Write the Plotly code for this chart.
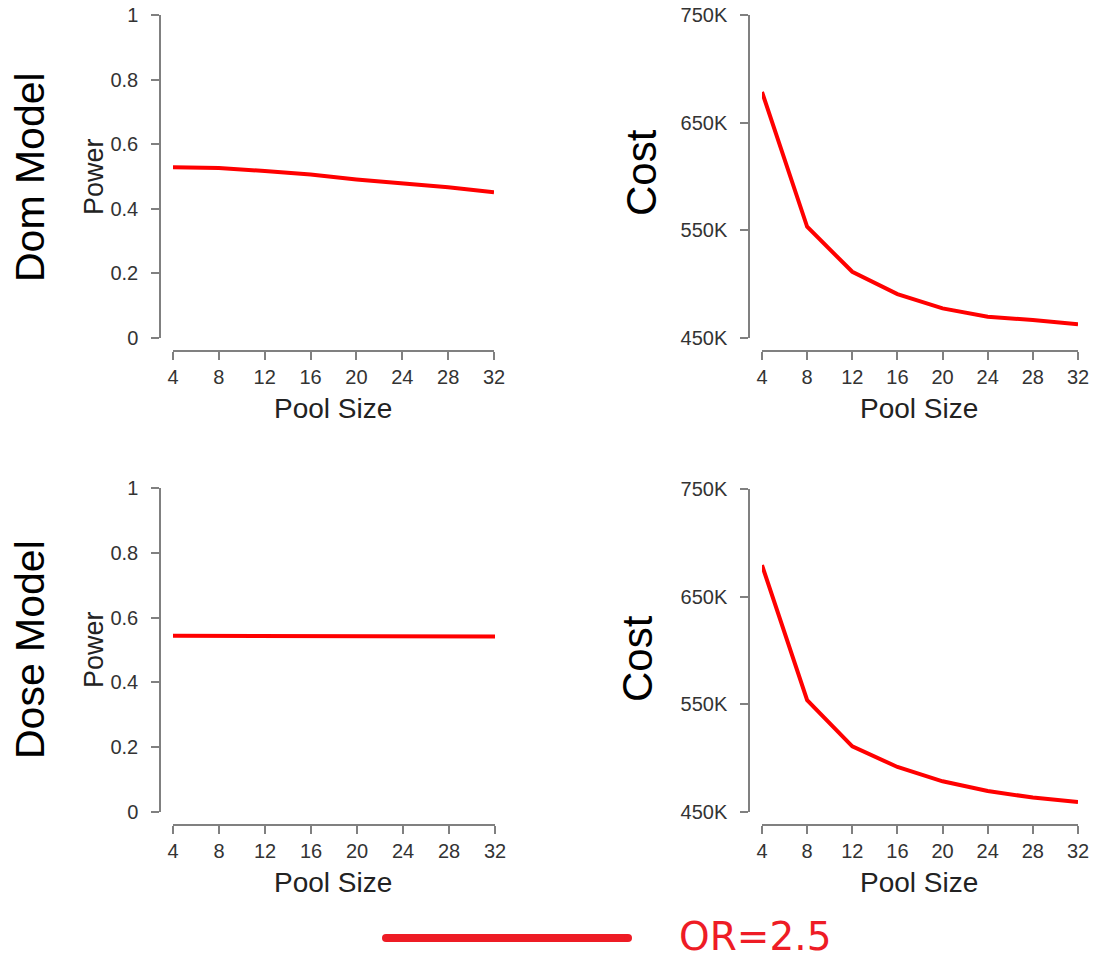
import plotly.graph_objects as go

W, H = 1112, 960

pool_sizes = [4, 8, 12, 16, 20, 24, 28, 32]
dom_power = [0.529, 0.526, 0.517, 0.506, 0.491, 0.480, 0.467, 0.451]
dom_cost = [678500, 553300, 511500, 490800, 477500, 469800, 466700, 462700]
dose_power = [0.544, 0.544, 0.543, 0.543, 0.543, 0.543, 0.542, 0.542]
dose_cost = [679300, 553800, 511000, 491800, 478500, 469500, 463400, 459300]

x_ticks = [4, 8, 12, 16, 20, 24, 28, 32]
power_ticks = [0, 0.2, 0.4, 0.6, 0.8, 1]
power_ticktext = ["0", "0.2", "0.4", "0.6", "0.8", "1"]
cost_ticks = [450000, 550000, 650000, 750000]
cost_ticktext = ["450K", "550K", "650K", "750K"]

row_labels = ["Dom Model", "Dose Model"]
legend_label = "OR=2.5"

LINE_RED = "#ff0000"
LEGEND_RED = "#ee1c25"
AXIS_GRAY = "#808080"
TICK_FONT = dict(family="Liberation Sans, Arial", size=20, color="#333333")


def px(x):
    return x / W


def py(y):
    return 1 - y / H


fig = go.Figure()

# panel geometry (pixels): x span, y span, y-axis x position, x-axis y position
panels = [
    dict(x=(173, 494), y=(15, 338), yax=160, xax=351, data=dom_power, kind="power"),
    dict(x=(762, 1078), y=(15, 338), yax=749, xax=351, data=dom_cost, kind="cost"),
    dict(x=(173, 495), y=(488, 812), yax=160, xax=825, data=dose_power, kind="power"),
    dict(x=(762, 1078), y=(489, 812), yax=749, xax=825, data=dose_cost, kind="cost"),
]

for i, p in enumerate(panels, start=1):
    xa = "x" if i == 1 else f"x{i}"
    ya = "y" if i == 1 else f"y{i}"
    fig.add_trace(go.Scatter(
        x=pool_sizes, y=p["data"], mode="lines",
        line=dict(color=LINE_RED, width=4),
        xaxis=xa, yaxis=ya, showlegend=False, cliponaxis=False,
        hoverinfo="x+y",
    ))
    xkey = "xaxis" if i == 1 else f"xaxis{i}"
    ykey = "yaxis" if i == 1 else f"yaxis{i}"
    if p["kind"] == "power":
        yrange = [0, 1]
        tv, tt = power_ticks, power_ticktext
    else:
        yrange = [450000, 750000]
        tv, tt = cost_ticks, cost_ticktext
    fig.update_layout(**{
        xkey: dict(
            domain=[px(p["x"][0]), px(p["x"][1])],
            range=[4, 32], anchor="free", position=py(p["xax"]),
            tickmode="array", tickvals=x_ticks, ticktext=[str(v) for v in x_ticks],
            showline=True, linecolor=AXIS_GRAY, linewidth=1.5,
            ticks="outside", ticklen=8, tickwidth=1.5, tickcolor=AXIS_GRAY,
            showgrid=False, zeroline=False, tickfont=TICK_FONT,
            automargin=False,
        ),
        ykey: dict(
            domain=[py(p["y"][1]), py(p["y"][0])],
            range=yrange, anchor="free", position=px(p["yax"]),
            tickmode="array", tickvals=tv, ticktext=tt,
            showline=True, linecolor=AXIS_GRAY, linewidth=1.5,
            ticks="outside", ticklen=8, tickwidth=1.5, tickcolor=AXIS_GRAY,
            showgrid=False, zeroline=False, tickfont=TICK_FONT,
            ticklabelstandoff=9, automargin=False,
        ),
    })

annotations = []


def add_text(text, x, y, size, angle=0, color="#111111", family="Liberation Sans, Arial"):
    annotations.append(dict(
        text=text, x=px(x), y=py(y), xref="paper", yref="paper",
        showarrow=False, textangle=angle, xanchor="center", yanchor="middle",
        font=dict(family=family, size=size, color=color),
    ))


# Pool Size labels
add_text("Pool Size", 333, 408, 28, color="#222222")
add_text("Pool Size", 919, 408, 28, color="#222222")
add_text("Pool Size", 333, 882, 28, color="#222222")
add_text("Pool Size", 919, 882, 28, color="#222222")
# Power labels
add_text("Power", 94, 177, 27, angle=-90, color="#222222")
add_text("Power", 94, 650, 27, angle=-90, color="#222222")
# Cost labels
add_text("Cost", 642, 173, 42, angle=-90, color="#000000")
add_text("Cost", 637, 659, 42, angle=-90, color="#000000")
# Row labels
add_text(row_labels[0], 30, 177, 41, angle=-90, color="#000000")
add_text(row_labels[1], 30, 650, 41, angle=-90, color="#000000")
# Legend text
add_text(legend_label, 755, 936, 39, color=LEGEND_RED, family="DejaVu Sans, Roboto")

# legend key: thick line with round ends
shapes = [dict(
    type="line", xref="paper", yref="paper",
    x0=px(386), x1=px(628), y0=py(938), y1=py(938),
    line=dict(color=LEGEND_RED, width=8),
)]
for cx in (386, 628):
    shapes.append(dict(
        type="circle", xref="paper", yref="paper",
        xsizemode="pixel", ysizemode="pixel",
        xanchor=px(cx), yanchor=py(938),
        x0=-4, x1=4, y0=-4, y1=4,
        fillcolor=LEGEND_RED, line=dict(width=0),
    ))

fig.update_layout(
    width=W, height=H,
    margin=dict(l=0, r=0, t=0, b=0, pad=0),
    paper_bgcolor="white", plot_bgcolor="white",
    showlegend=False,
    annotations=annotations,
    shapes=shapes,
)

fig.write_html(
    "out.html",
    config={"displayModeBar": False},
    post_script="document.body.style.margin='0px';document.body.style.overflow='hidden';",
)
